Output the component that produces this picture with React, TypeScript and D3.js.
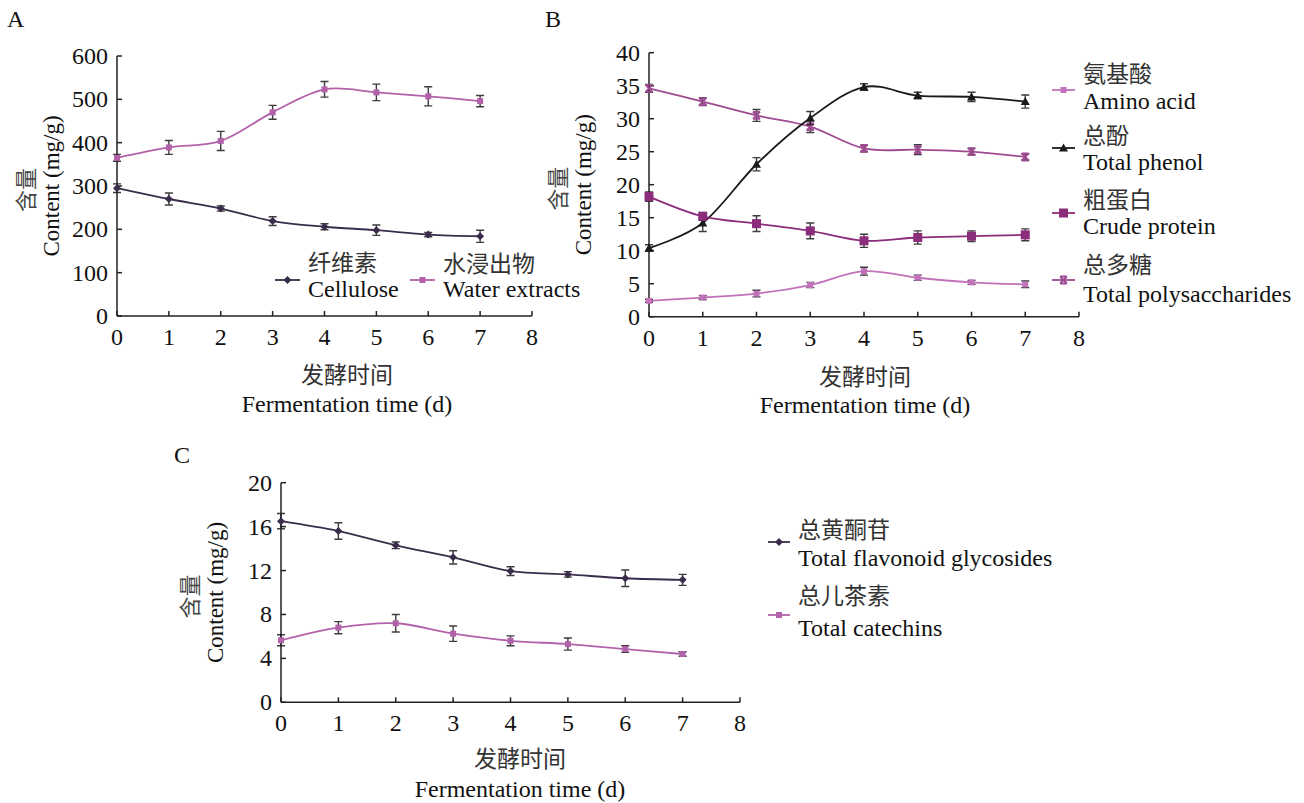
import React from 'react';
import * as d3 from 'd3';

const days = [0, 1, 2, 3, 4, 5, 6, 7];
const xTicks = [0, 1, 2, 3, 4, 5, 6, 7, 8];

// panel A
const cellulose = [295, 270, 248, 219, 206, 198, 188, 184];
const celluloseErr = [10, 14, 6, 10, 7, 12, 5, 14];
const waterExtracts = [365, 389, 404, 470, 523, 516, 507, 496];
const waterErr = [8, 16, 22, 16, 18, 19, 22, 13];

// panel B
const polysaccharides = [34.6, 32.6, 30.5, 28.8, 25.5, 25.3, 25.0, 24.2];
const polysaccharidesErr = [0.6, 0.6, 0.9, 0.9, 0.5, 0.75, 0.5, 0.5];
const phenol = [10.4, 14.2, 23.1, 30.1, 34.8, 33.5, 33.3, 32.6];
const phenolErr = [0.5, 1.3, 1.0, 1.0, 0.5, 0.5, 0.7, 1.0];
const protein = [18.2, 15.2, 14.1, 13.0, 11.5, 12.0, 12.2, 12.4];
const proteinErr = [0.7, 0.6, 1.2, 1.2, 1.0, 1.0, 0.8, 0.9];
const aminoAcid = [2.4, 2.9, 3.5, 4.8, 6.9, 5.9, 5.2, 4.9];
const aminoAcidErr = [0.2, 0.3, 0.5, 0.4, 0.6, 0.4, 0.3, 0.5];

// panel C
const flavonoids = [16.5, 15.6, 14.3, 13.2, 11.95, 11.65, 11.3, 11.15];
const flavonoidsErr = [0.7, 0.75, 0.3, 0.6, 0.4, 0.25, 0.75, 0.5];
const catechins = [5.65, 6.8, 7.2, 6.25, 5.6, 5.3, 4.85, 4.4];
const catechinsErr = [0.5, 0.55, 0.8, 0.7, 0.45, 0.55, 0.3, 0.2];

const SERIF = 'Liberation Serif, serif';
const CJK = 'Noto Sans CJK SC, sans-serif';
const AXIS = '#222';
const FS = 24;

const C_DARK = '#3a2d4c';
const C_PINK = '#b262aa';
const C_BLACK = '#1a1a1a';
const C_PROTEIN = '#8c2d7c';
const C_POLY = '#a04a93';
const C_AMINO = '#c272ba';

type Series = { values: number[]; err: number[]; color: string; marker: string };
type LegendItem = { zh: string; en: string; color: string; marker: string; x: number; lineY: number; zhY: number; enY: number; len: number };

function Marker({ type, x, y, color }: { type: string; x: number; y: number; color: string }) {
  if (type === 'diamond')
    return <polygon points={`${x},${y - 4} ${x + 4},${y} ${x},${y + 4} ${x - 4},${y}`} fill={color} />;
  if (type === 'square') return <rect x={x - 3} y={y - 3} width={6} height={6} fill={color} />;
  if (type === 'bigsquare') return <rect x={x - 4.5} y={y - 4.5} width={9} height={9} fill={color} />;
  if (type === 'triangle')
    return <polygon points={`${x},${y - 4.5} ${x + 4.5},${y + 3.5} ${x - 4.5},${y + 3.5}`} fill={color} />;
  // cross
  return (
    <path
      d={`M${x - 3.5},${y - 3.5}L${x + 3.5},${y + 3.5}M${x + 3.5},${y - 3.5}L${x - 3.5},${y + 3.5}M${x - 3.5},${y - 3.5}H${x + 3.5}M${x - 3.5},${y + 3.5}H${x + 3.5}`}
      stroke={color}
      strokeWidth={1.8}
      fill="none"
    />
  );
}

function Panel(props: {
  x0: number; x1: number; yTop: number; yBot: number; yMax: number; yStep: number;
  series: Series[]; legend: LegendItem[];
  letter: string; letterX: number; letterY: number;
  titleX: number; zhTitleY: number; enTitleY: number;
}) {
  const { x0, x1, yTop, yBot, yMax, yStep, series, legend } = props;
  const x = d3.scaleLinear().domain([0, 8]).range([x0, x1]);
  const y = d3.scaleLinear().domain([0, yMax]).range([yBot, yTop]);
  const yTicks = d3.range(0, yMax + yStep / 2, yStep);
  const line = d3
    .line<number>()
    .x((_, i) => x(days[i]))
    .y((d) => y(d))
    .curve(d3.curveCardinal.tension(0));
  const midY = (yTop + yBot) / 2;

  return (
    <g>
      <text x={props.letterX} y={props.letterY} fontSize={FS} fontFamily={SERIF} fill="#111">
        {props.letter}
      </text>
      {/* axes */}
      <line x1={x0} x2={x0} y1={yTop} y2={yBot} stroke={AXIS} strokeWidth={1.5} />
      <line x1={x0} x2={x1} y1={yBot} y2={yBot} stroke={AXIS} strokeWidth={1.5} />
      {yTicks.map((t) => (
        <g key={'y' + t}>
          <line x1={x0} x2={x0 + 5} y1={y(t)} y2={y(t)} stroke={AXIS} strokeWidth={1.5} />
          <text x={x0 - 9} y={y(t)} textAnchor="end" dominantBaseline="central" fontSize={FS} fontFamily={SERIF} fill="#111">
            {t}
          </text>
        </g>
      ))}
      {xTicks.map((t) => (
        <g key={'x' + t}>
          <line x1={x(t)} x2={x(t)} y1={yBot} y2={yBot - 5} stroke={AXIS} strokeWidth={1.5} />
          <text x={x(t)} y={yBot + 21} textAnchor="middle" dominantBaseline="central" fontSize={FS} fontFamily={SERIF} fill="#111">
            {t}
          </text>
        </g>
      ))}
      {/* axis titles */}
      <text x={props.titleX} y={props.zhTitleY} textAnchor="middle" dominantBaseline="central" fontSize={23} fontFamily={CJK} fill="#333">
        发酵时间
      </text>
      <text x={props.titleX} y={props.enTitleY} textAnchor="middle" dominantBaseline="central" fontSize={FS} fontFamily={SERIF} fill="#111">
        Fermentation time (d)
      </text>
      <text transform={`translate(${x0 - 93},${midY + 4}) rotate(-90)`} textAnchor="middle" dominantBaseline="central" fontSize={22} fontFamily={CJK} fill="#444">
        含量
      </text>
      <text transform={`translate(${x0 - 66},${midY}) rotate(-90)`} textAnchor="middle" dominantBaseline="central" fontSize={23} fontFamily={SERIF} fill="#111">
        Content (mg/g)
      </text>
      {/* series */}
      {series.map((s, si) => (
        <g key={'s' + si}>
          <path d={line(s.values) || ''} fill="none" stroke={s.color} strokeWidth={1.8} />
          {s.values.map((v, i) => {
            const cx = x(days[i]);
            const hi = y(v + s.err[i]);
            const lo = y(v - s.err[i]);
            return (
              <g key={i}>
                <path d={`M${cx - 4},${hi}H${cx + 4}M${cx},${hi}V${lo}M${cx - 4},${lo}H${cx + 4}`} stroke={C_BLACK} strokeWidth={1.4} fill="none" opacity={0.85} />
                <Marker type={s.marker} x={cx} y={y(v)} color={s.color} />
              </g>
            );
          })}
        </g>
      ))}
      {/* legend */}
      {legend.map((l, li) => (
        <g key={'l' + li}>
          <line x1={l.x} x2={l.x + l.len} y1={l.lineY} y2={l.lineY} stroke={l.color} strokeWidth={1.8} />
          <Marker type={l.marker} x={l.x + l.len / 2} y={l.lineY} color={l.color} />
          <text x={l.x + l.len + 8} y={l.zhY} dominantBaseline="central" fontSize={23} fontFamily={CJK} fill="#333">
            {l.zh}
          </text>
          <text x={l.x + l.len + 8} y={l.enY} dominantBaseline="central" fontSize={FS} fontFamily={SERIF} fill="#111">
            {l.en}
          </text>
        </g>
      ))}
    </g>
  );
}

export default function App() {
  return (
    <svg width={1304} height={803} style={{ position: 'absolute', left: 0, top: 0, background: '#fff' }}>
      <Panel
        x0={117} x1={532} yTop={56} yBot={316} yMax={600} yStep={100}
        letter="A" letterX={7} letterY={27}
        titleX={347} zhTitleY={373} enTitleY={404}
        series={[
          { values: cellulose, err: celluloseErr, color: C_DARK, marker: 'diamond' },
          { values: waterExtracts, err: waterErr, color: C_PINK, marker: 'square' },
        ]}
        legend={[
          { zh: '纤维素', en: 'Cellulose', color: C_DARK, marker: 'diamond', x: 275, len: 25, lineY: 280, zhY: 261, enY: 289 },
          { zh: '水浸出物', en: 'Water extracts', color: C_PINK, marker: 'square', x: 410, len: 25, lineY: 280, zhY: 262, enY: 289 },
        ]}
      />
      <Panel
        x0={649} x1={1079} yTop={52.7} yBot={316.7} yMax={40} yStep={5}
        letter="B" letterX={545} letterY={27}
        titleX={865} zhTitleY={375} enTitleY={405}
        series={[
          { values: polysaccharides, err: polysaccharidesErr, color: C_POLY, marker: 'cross' },
          { values: phenol, err: phenolErr, color: C_BLACK, marker: 'triangle' },
          { values: protein, err: proteinErr, color: C_PROTEIN, marker: 'bigsquare' },
          { values: aminoAcid, err: aminoAcidErr, color: C_AMINO, marker: 'square' },
        ]}
        legend={[
          { zh: '氨基酸', en: 'Amino acid', color: C_AMINO, marker: 'square', x: 1052, len: 23, lineY: 90, zhY: 72, enY: 101 },
          { zh: '总酚', en: 'Total phenol', color: C_BLACK, marker: 'triangle', x: 1052, len: 23, lineY: 148, zhY: 134, enY: 162 },
          { zh: '粗蛋白', en: 'Crude protein', color: C_PROTEIN, marker: 'bigsquare', x: 1052, len: 23, lineY: 213, zhY: 198, enY: 226 },
          { zh: '总多糖', en: 'Total polysaccharides', color: C_POLY, marker: 'cross', x: 1052, len: 23, lineY: 280, zhY: 263, enY: 294 },
        ]}
      />
      <Panel
        x0={281} x1={740} yTop={482.7} yBot={702.3} yMax={20} yStep={4}
        letter="C" letterX={174} letterY={463}
        titleX={520} zhTitleY={757} enTitleY={789}
        series={[
          { values: flavonoids, err: flavonoidsErr, color: C_DARK, marker: 'diamond' },
          { values: catechins, err: catechinsErr, color: C_PINK, marker: 'square' },
        ]}
        legend={[
          { zh: '总黄酮苷', en: 'Total flavonoid glycosides', color: C_DARK, marker: 'diamond', x: 768, len: 22, lineY: 542, zhY: 528, enY: 558 },
          { zh: '总儿茶素', en: 'Total catechins', color: C_PINK, marker: 'square', x: 768, len: 22, lineY: 615, zhY: 594, enY: 628 },
        ]}
      />
    </svg>
  );
}
